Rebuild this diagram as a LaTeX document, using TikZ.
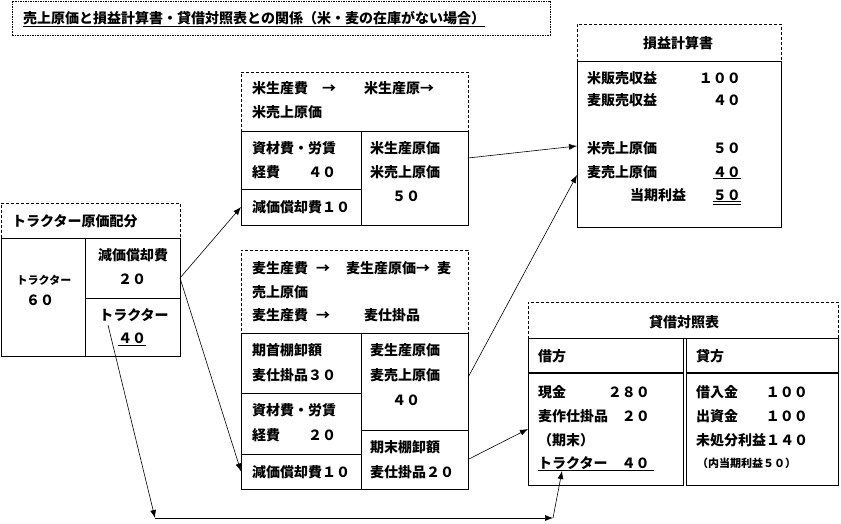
\documentclass[tikz,border=0pt]{standalone}
\usepackage{fontspec}
\setmainfont{Noto Sans CJK JP}
\usetikzlibrary{arrows.meta,calc}
\newcommand{\bx}[6]{\node[#2, minimum width={#5-#3}, minimum height={#6-#4}, anchor=north west] (#1) at (#3,#4) {};}
\tikzset{
  txt/.style={anchor=west, inner sep=0pt, font=\fontsize{14pt}{14pt}\selectfont\bfseries},
  smalltxt/.style={anchor=west, inner sep=0pt, font=\fontsize{11pt}{11pt}\selectfont\bfseries},
  cell/.style={draw, line width=0.8pt, inner sep=0pt, outer sep=0pt},
  hdr/.style={draw, line width=0.8pt, dash pattern=on 3pt off 2pt, inner sep=0pt, outer sep=0pt},
  ttl/.style={draw, line width=0.7pt, dash pattern=on 1.5pt off 1pt, inner sep=0pt, outer sep=0pt},
  arr/.style={-{Latex[length=8pt,width=6pt]}, line width=0.6pt},
  uline/.style={line width=0.8pt}
}
\begin{document}
\begin{tikzpicture}[x=1pt,y=-1pt]
\useasboundingbox (0,0) rectangle (841,524);
% title
\bx{tbox}{ttl}{12}{1}{550}{35}
\node[txt] (title) at (23,18) {売上原価と損益計算書・貸借対照表との関係（米・麦の在庫がない場合）};
\draw[uline] ([yshift=-1pt]title.south west) -- ([yshift=-1pt]title.south east);
% left box
\bx{hdrL}{hdr}{1}{203}{180}{238}
\bx{cellTr}{cell}{1}{238}{85}{356}
\bx{cellDep}{cell}{85}{238}{180}{298}
\bx{cellTr40}{cell}{85}{298}{180}{356}
\node[txt] (tL) at (12,221) {トラクター原価配分};
\node[smalltxt, anchor=center] (tr1) at (44,280) {トラクター};
\node[txt, anchor=center] (tr1n) at (40,300) {６０};
\node[txt, anchor=center] (dep1) at (133,255) {減価償却費};
\node[txt, anchor=center] (dep1n) at (132,279) {２０};
\node[txt, anchor=center] (tr2) at (134,315) {トラクター};
\node[txt, anchor=center] (tr2n) at (132,338) {４０};
\draw[uline] ([yshift=-2pt]tr2n.south west) -- ([yshift=-2pt]tr2n.south east);
% rice box
\bx{hdrR}{hdr}{241}{72}{468}{131}
\bx{rMat}{cell}{241}{131}{361}{189}
\bx{rDep}{cell}{241}{189}{361}{225}
\bx{rCost}{cell}{361}{131}{468}{225}
\node[txt] (rh1) at (252,88) {米生産費　→　　米生産原→};
\node[txt] (rh2) at (252,112) {米売上原価};
\node[txt] (rm1) at (252,148) {資材費・労賃};
\node[txt] (rm2) at (252,172) {経費　　４０};
\node[txt] (rd1) at (252,207) {減価償却費１０};
\node[txt] (rc1) at (370,148) {米生産原価};
\node[txt] (rc2) at (370,172) {米売上原価};
\node[txt] (rc3) at (392,196) {５０};
% wheat box
\bx{hdrW}{hdr}{241}{250}{468}{333}
\bx{wBeg}{cell}{241}{333}{361}{393}
\bx{wMat}{cell}{241}{393}{361}{454}
\bx{wDep}{cell}{241}{454}{361}{489}
\bx{wCost}{cell}{361}{333}{468}{430}
\bx{wEnd}{cell}{361}{430}{468}{489}
\node[txt] (wh1) at (252,268) {麦生産費\hspace{8pt}→\hspace{16pt}麦生産原価→\hspace{7pt}麦};
\node[txt] (wh2) at (252,292) {売上原価};
\node[txt] (wh3) at (252,315) {麦生産費\hspace{8pt}→\hspace{34pt}麦仕掛品};
\node[txt] (wb1) at (252,350) {期首棚卸額};
\node[txt] (wb2) at (252,375) {麦仕掛品３０};
\node[txt] (wm1) at (252,410) {資材費・労賃};
\node[txt] (wm2) at (252,435) {経費　　２０};
\node[txt] (wd1) at (252,472) {減価償却費１０};
\node[txt] (wc1) at (370,350) {麦生産原価};
\node[txt] (wc2) at (370,375) {麦売上原価};
\node[txt] (wc3) at (392,400) {４０};
\node[txt] (we1) at (370,447) {期末棚卸額};
\node[txt] (we2) at (370,472) {麦仕掛品２０};
% income statement
\bx{hdrPL}{hdr}{577}{24}{781}{61}
\bx{bodyPL}{cell}{577}{61}{781}{227}
\node[txt, anchor=center] (plT) at (678,43) {損益計算書};
\node[txt] (pl1) at (587,78) {米販売収益};
\node[txt, anchor=east] (pl1n) at (741,78) {１００};
\node[txt] (pl2) at (587,100) {麦販売収益};
\node[txt, anchor=east] (pl2n) at (741,100) {４０};
\node[txt] (pl3) at (587,148) {米売上原価};
\node[txt, anchor=east] (pl3n) at (741,148) {５０};
\node[txt] (pl4) at (587,172) {麦売上原価};
\node[txt, anchor=east] (pl4n) at (741,172) {４０};
\node[txt] (pl5) at (630,195) {当期利益};
\node[txt, anchor=east] (pl5n) at (741,195) {５０};
\draw[uline] ([yshift=-1pt]pl4n.south west) -- ([yshift=-1pt]pl4n.south east);
\draw[uline] ([yshift=-1pt]pl5n.south west) -- ([yshift=-1pt]pl5n.south east);
\draw[uline] ([yshift=-4pt]pl5n.south west) -- ([yshift=-4pt]pl5n.south east);
% balance sheet
\bx{hdrBS}{hdr}{528}{302}{838}{338}
\bx{drHead}{cell}{528}{338}{683}{373}
\bx{drBody}{cell}{528}{373}{683}{485}
\bx{crHead}{cell}{686}{338}{838}{373}
\bx{crBody}{cell}{686}{373}{838}{485}
\draw[line width=2pt] (drHead.south west) -- (drHead.south east);
\draw[line width=2pt] (crHead.south west) -- (crHead.south east);
\node[txt, anchor=center] (bsT) at (684,322) {貸借対照表};
\node[txt] (dr0) at (538,356) {借方};
\node[txt] (cr0) at (696,356) {貸方};
\node[txt] (dr1) at (538,392) {現金};
\node[txt, anchor=east] (dr1n) at (650,392) {２８０};
\node[txt] (dr2) at (538,416) {麦作仕掛品};
\node[txt, anchor=east] (dr2n) at (650,416) {２０};
\node[txt] (dr3) at (538,440) {（期末）};
\node[txt] (dr4) at (538,463) {トラクター　４０};
\draw[uline] ([yshift=-1pt]dr4.south west) -- ([xshift=4pt,yshift=-1pt]dr4.south east);
\node[txt] (cr1) at (696,392) {借入金};
\node[txt, anchor=east] (cr1n) at (808,392) {１００};
\node[txt] (cr2) at (696,416) {出資金};
\node[txt, anchor=east] (cr2n) at (808,416) {１００};
\node[txt] (cr3) at (696,440) {未処分利益１４０};
\node[smalltxt] (cr4) at (697,463) {（内当期利益５０）};
% connectors
\coordinate (trs) at (108,325);
\coordinate (k1) at (155,518);
\coordinate (k2) at (553,518);
\coordinate (bsTr) at (562,471);
\draw[arr] ([yshift=-10pt]cellDep.east) -- (rDep.west);
\draw[arr] ([yshift=-10pt]cellDep.east) -- (wDep.west);
\draw[arr] (trs) -- (k1);
\draw[arr] (k1) -- (k2);
\draw[arr] (k2) -- (bsTr);
\draw[arr] ([yshift=20pt]rCost.east) -- ([yshift=-2pt]bodyPL.west);
\draw[arr] ([yshift=4pt]wCost.east) -- ([yshift=-31pt]bodyPL.west);
\draw[arr] (wEnd.east) -- (drBody.west);
\end{tikzpicture}
\end{document}
